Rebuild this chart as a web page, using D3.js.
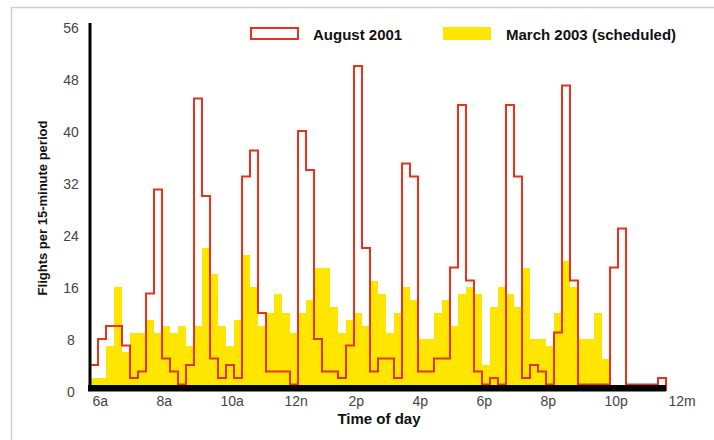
<!DOCTYPE html>
<html>
<head>
<meta charset="utf-8">
<script src="https://cdn.jsdelivr.net/npm/d3@7"></script>
<style>
  html, body { margin: 0; padding: 0; background: #fff; }
  svg { display: block; font-family: "Liberation Sans", Arial, Helvetica, sans-serif; }
</style>
</head>
<body>
<svg id="chart" width="714" height="440"></svg>
<script>
// 15-minute periods from 6a to 12m (72 periods)
const august2001 = [
  4, 8, 10, 10, 7, 2, 3, 15, 31, 5, 3, 1,
  4, 45, 30, 5, 2, 4, 2, 33, 37, 12, 3, 3,
  3, 1, 40, 34, 8, 3, 3, 2, 7, 50, 22, 3,
  5, 5, 2, 35, 33, 3, 3, 5, 5, 19, 44, 17,
  3, 1, 2, 1, 44, 33, 2, 4, 3, 1, 9, 47,
  17, 1, 1, 1, 1, 19, 25, 1, 1, 1, 1, 2
];
const march2003 = [
  2, 2, 7, 16, 6, 9, 9, 11, 9, 10, 9, 10,
  7, 10, 22, 18, 10, 7, 11, 21, 16, 10, 12, 15,
  12, 9, 12, 14, 19, 19, 13, 9, 11, 12, 10, 17,
  15, 9, 12, 16, 14, 8, 8, 12, 14, 10, 15, 16,
  15, 4, 13, 16, 15, 13, 19, 8, 8, 7, 12, 20,
  16, 8, 8, 12, 5, 0, 0, 0, 0, 0, 0, 0
];
const xTickLabels = ["6a", "8a", "10a", "12n", "2p", "4p", "6p", "8p", "10p", "12m"];
const yTicks = [0, 8, 16, 24, 32, 40, 48, 56];
const seriesNames = ["August 2001", "March 2003 (scheduled)"];

const RED = "#e8321e", YELLOW = "#ffe600";
const svg = d3.select("#chart");

const x = d3.scaleLinear().domain([0, 72]).range([90, 666]);
const y = d3.scaleLinear().domain([0, 56]).range([391, 27]);

// light frame
svg.append("rect").attr("x", 11.5).attr("y", 7.5).attr("width", 720).attr("height", 450)
  .attr("fill", "none").attr("stroke", "#cfcfcf").attr("stroke-width", 1.5);

// yellow bars
svg.append("g").selectAll("rect").data(march2003).join("rect")
  .attr("x", (d, i) => x(i)).attr("width", (d, i) => x(i + 1) - x(i))
  .attr("y", d => y(d)).attr("height", d => y(0) - y(d))
  .attr("fill", YELLOW).attr("shape-rendering", "crispEdges");

// red step outline
let p = d3.path();
p.moveTo(x(0), y(0));
august2001.forEach((v, i) => { p.lineTo(x(i), y(v)); p.lineTo(x(i + 1), y(v)); });
p.lineTo(x(72), y(0));
svg.append("path").attr("d", p.toString()).attr("fill", "none")
  .attr("stroke", RED).attr("stroke-width", 2).attr("stroke-linejoin", "miter");

// baseline and y axis line
svg.append("rect").attr("x", x(0) - 2).attr("y", 385).attr("width", x(72) - x(0) + 2).attr("height", 6.5).attr("fill", "#000");
svg.append("line").attr("x1", x(0)).attr("x2", x(0)).attr("y1", 23).attr("y2", 391)
  .attr("stroke", "#000").attr("stroke-width", 3);

// y axis labels
const yAxis = d3.axisLeft(y).tickValues(yTicks).tickSize(0).tickPadding(0);
const gy = svg.append("g").attr("transform", "translate(71,1)").call(yAxis);
gy.select(".domain").remove();
gy.selectAll("text").attr("text-anchor", "middle").attr("font-size", 14)
  .attr("fill", "#444").attr("font-family", "Liberation Sans, Arial, sans-serif");

// x axis labels
const xAxis = d3.axisBottom(x).tickValues(d3.range(0, 73, 8))
  .tickFormat((d, i) => xTickLabels[i]).tickSize(0).tickPadding(0);
const gx = svg.append("g").attr("transform", "translate(0,395)").call(xAxis);
gx.select(".domain").remove();
gx.selectAll("text").attr("text-anchor", "start").attr("dx", 2).attr("dy", "0.8em")
  .attr("font-size", 14).attr("fill", "#444").attr("font-family", "Liberation Sans, Arial, sans-serif");

// axis titles
svg.append("text").attr("x", 379).attr("y", 424).attr("text-anchor", "middle")
  .attr("font-size", 15).attr("font-weight", "bold").attr("fill", "#111").text("Time of day");
svg.append("text").attr("transform", "translate(47,208) rotate(-90)").attr("text-anchor", "middle")
  .attr("font-size", 13).attr("font-weight", "bold").attr("fill", "#111").text("Flights per 15-minute period");

// legend
const lg = svg.append("g");
lg.append("rect").attr("x", 251).attr("y", 28).attr("width", 47).attr("height", 11)
  .attr("fill", "#fff").attr("stroke", RED).attr("stroke-width", 2);
lg.append("text").attr("x", 313).attr("y", 39.5).attr("font-size", 15).attr("font-weight", "bold")
  .attr("fill", "#111").text(seriesNames[0]);
lg.append("rect").attr("x", 443).attr("y", 27).attr("width", 48).attr("height", 13).attr("fill", YELLOW);
lg.append("text").attr("x", 506).attr("y", 39.5).attr("font-size", 15).attr("font-weight", "bold")
  .attr("fill", "#111").text(seriesNames[1]);
</script>
</body>
</html>
